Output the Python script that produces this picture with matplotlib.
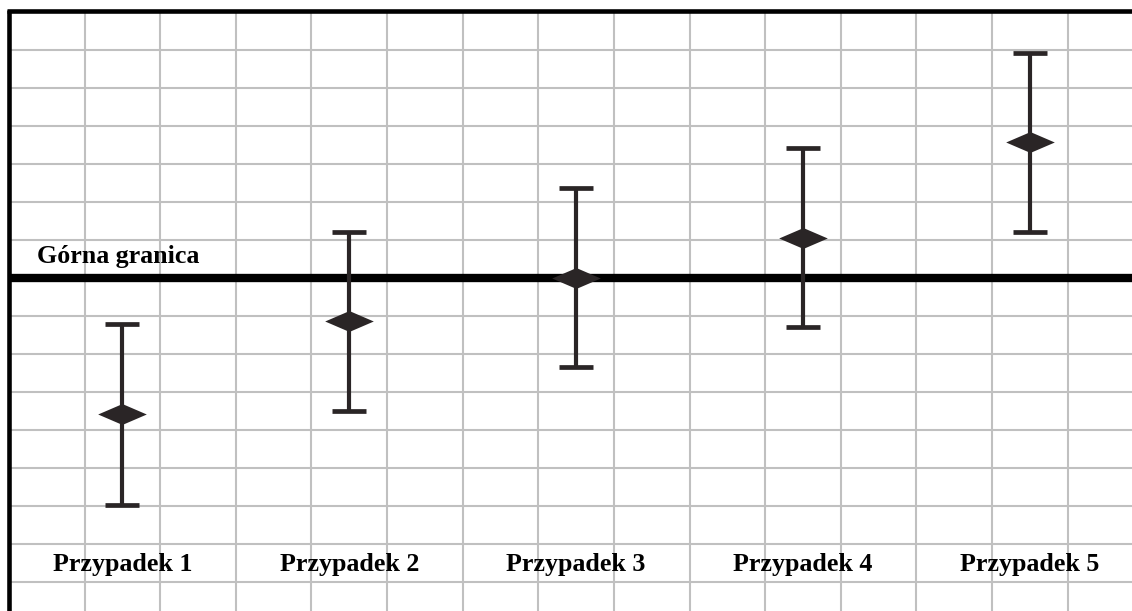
import numpy as np
import matplotlib
matplotlib.use("Agg")
import matplotlib.pyplot as plt
from matplotlib.path import Path

# ---- data (grid units, upper limit = 0) ----
cases = ["Przypadek 1", "Przypadek 2", "Przypadek 3", "Przypadek 4", "Przypadek 5"]
centers = [-3.58, -1.13, 0.00, 1.05, 3.58]
lower = [-5.97, -3.50, -2.34, -1.29, 1.21]
upper = [-1.21, 1.21, 2.37, 3.42, 5.92]
limit_label = "Górna granica"
limit_value = 0.0

# ---- figure ----
fig = plt.figure(figsize=(11.32, 6.11), dpi=100)
ax = fig.add_axes([0, 0, 1, 1])
ax.set_xlim(-0.119, 14.85)
ax.set_ylim(-8.76, 7.316)
ax.axis("off")

top_edge = 7.03
grid_c = "#c0c0c0"
ax.vlines(np.arange(1, 15), ymin=-8.76, ymax=top_edge, colors=grid_c, lw=1.5, zorder=1)
ax.hlines(np.arange(-8, 7), xmin=0, xmax=14.85, colors=grid_c, lw=1.5, zorder=1)

# borders
ax.hlines(top_edge, xmin=-0.03, xmax=14.85, colors="black", lw=3.3, zorder=3)
ax.vlines(0, ymin=-8.76, ymax=top_edge + 0.03, colors="black", lw=3.3, zorder=3)

# upper limit line
ax.hlines(limit_value, xmin=0, xmax=14.85, colors="black", lw=6.0, zorder=3)
ax.text(0.37, limit_value + 0.39, limit_label, fontsize=18.7, fontweight="bold",
        family=["Liberation Serif", "DejaVu Serif"], ha="left", va="baseline", zorder=5)

# error bars
xs = 1.5 + 3 * np.arange(len(cases))
c = np.array(centers)
yerr = np.vstack([c - np.array(lower), np.array(upper) - c])
diamond = Path([(-1, 0), (0, 0.43), (1, 0), (0, -0.43), (-1, 0)],
               [Path.MOVETO, Path.LINETO, Path.LINETO, Path.LINETO, Path.CLOSEPOLY])
bar_c = "#2a2526"
ax.errorbar(xs, c, yerr=yerr, fmt="none", ecolor=bar_c, elinewidth=3.0,
            capsize=12, capthick=3.4, zorder=4)
ax.plot(xs, c, linestyle="none", marker=diamond, markersize=35, color=bar_c,
        markeredgewidth=0, zorder=4)

for x, name in zip(xs, cases):
    ax.text(x, -7.7, name, fontsize=18.7, fontweight="bold",
            family=["Liberation Serif", "DejaVu Serif"], ha="center", va="baseline", zorder=5)

fig.savefig("out.png", dpi=100, facecolor="white")
